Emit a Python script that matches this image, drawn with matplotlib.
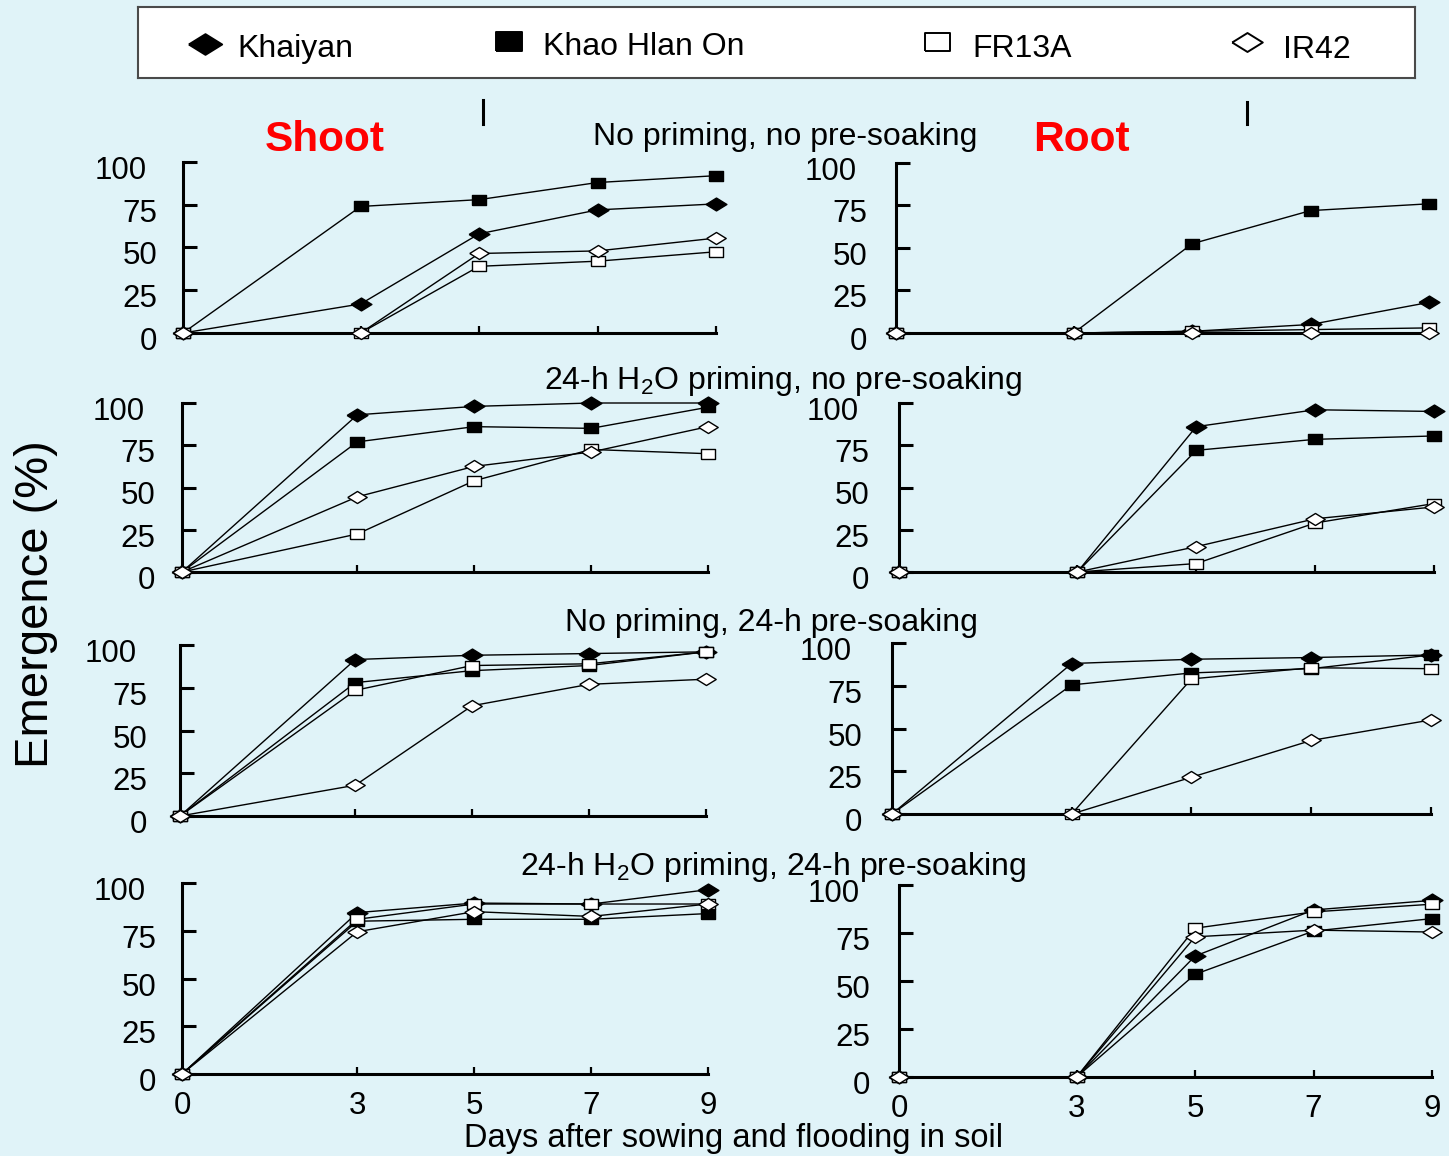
import matplotlib
matplotlib.use("Agg")
import matplotlib.pyplot as plt
from matplotlib.lines import Line2D
from matplotlib.transforms import ScaledTranslation

plt.rcParams['font.family'] = ['Liberation Sans', 'DejaVu Sans']
plt.rcParams['mathtext.fontset'] = 'custom'
plt.rcParams['mathtext.rm'] = 'Liberation Sans'
plt.rcParams['mathtext.it'] = 'Liberation Sans:italic'

# ---------------------------------------------------------------- data
days = [0, 3, 5, 7, 9]
varieties = ["Khaiyan", "Khao Hlan On", "FR13A", "IR42"]
treatments = [
    "No priming, no pre-soaking",
    "24-h H$_\\mathrm{2}$O priming, no pre-soaking",
    "No priming, 24-h pre-soaking",
    "24-h H$_\\mathrm{2}$O priming, 24-h pre-soaking",
]

# Shoot emergence (%), one row per treatment
shoot_khaiyan = [[0, 17, 58, 72, 75.5],
                 [0, 93, 98, 100, 100],
                 [0, 91.5, 94, 95, 96],
                 [0, 84.5, 89.5, 89, 96.5]]
shoot_khao = [[0, 74, 78, 88, 92],
              [0, 77, 86, 85, 97.5],
              [0, 78, 85, 88, 96],
              [0, 80, 81, 81, 84]]
shoot_fr13a = [[0, 0, 39, 42, 47.5],
               [0, 22.5, 54, 72.5, 70],
               [0, 73.5, 88, 89, 96],
               [0, 81, 89, 89, 89]]
shoot_ir42 = [[0, 0, 46.5, 48, 55.5],
              [0, 44.5, 62.5, 71, 86],
              [0, 18, 64.5, 77, 80],
              [0, 74.5, 85, 82.5, 89]]

# Root emergence (%), one row per treatment
root_khaiyan = [[0, 0, 1, 5, 18],
                [0, 0, 86, 96, 95],
                [0, 88, 90.5, 91.5, 93],
                [0, 0, 63, 87, 92]]
root_khao = [[0, 0, 52.5, 72, 76],
             [0, 0, 72, 78.5, 80.5],
             [0, 75.5, 82.5, 85, 93],
             [0, 0, 53.5, 76, 82.5]]
root_fr13a = [[0, 0, 1, 2, 3],
              [0, 0, 5, 29, 40.5],
              [0, 0, 79, 85.5, 85],
              [0, 0, 77.5, 86, 90]]
root_ir42 = [[0, 0, 0, 0, 0],
             [0, 0, 15, 31.5, 38.5],
             [0, 0, 21.5, 43, 55],
             [0, 0, 73, 76.5, 75.5]]

y_ticks = [0, 25, 50, 75, 100]

# ---------------------------------------------------------------- styles
W, H = 1449, 1156
BG = '#e0f3f8'
diamond = [(-1, 0), (0, 0.62), (1, 0), (0, -0.62), (-1, 0)]
square = [(-1, -0.72), (1, -0.72), (1, 0.72), (-1, 0.72), (-1, -0.72)]
styles = {
    "Khaiyan": dict(marker=diamond, ms=15, mfc='black', mec='black', mew=1.0),
    "Khao Hlan On": dict(marker=square, ms=10.5, mfc='black', mec='black', mew=1.0),
    "FR13A": dict(marker=square, ms=10.5, mfc='white', mec='black', mew=1.0),
    "IR42": dict(marker=diamond, ms=14, mfc='white', mec='black', mew=1.0),
}

fig = plt.figure(figsize=(W / 100, H / 100), dpi=100, facecolor=BG)


def pixel_axes(x0, x9, y100, y0):
    return fig.add_axes([x0 / W, 1 - y0 / H, (x9 - x0) / W, (y0 - y100) / H])


# panel frames in pixels: left spine, x=9 position, y=100 and y=0 positions
shoot_frames = [(183, 716, 162, 333), (182, 708, 403, 572),
                (180, 706, 645, 816), (182, 708, 883, 1074)]
root_frames = [(896, 1429, 163, 333), (899, 1434, 403, 572),
               (892, 1431, 643, 814), (899, 1432, 885, 1077)]
shoot_label_pad = [26, 27, 33, 26]
root_label_pad = [29, 30, 30, 29]

shoot_data = [shoot_khaiyan, shoot_khao, shoot_fr13a, shoot_ir42]
root_data = [root_khaiyan, root_khao, root_fr13a, root_ir42]


def draw_panel(ax, series, row, pad_px, bottom):
    ax.set_facecolor('none')
    for name, vals in zip(varieties, series):
        ax.plot(days, vals[row], color='black', lw=1.0, clip_on=False,
                zorder=3, **styles[name])
    ax.set_xlim(0, 9)
    ax.set_ylim(0, 100)
    for s in ('top', 'right'):
        ax.spines[s].set_visible(False)
    for s in ('left', 'bottom'):
        ax.spines[s].set_linewidth(2.2)
        ax.spines[s].set_color('black')
    ax.set_xticks(days)
    ax.set_yticks(y_ticks)
    ax.tick_params(axis='y', direction='in', length=10, width=2.2,
                   labelleft=False)
    ax.tick_params(axis='x', direction='in', length=5, width=1.6,
                   labelbottom=bottom, labelsize=22.5, pad=12)
    off = ScaledTranslation(-pad_px / 100, -9 / 100, fig.dpi_scale_trans)
    for v in y_ticks:
        dx = -10 if v == 100 else 0
        extra = ScaledTranslation(dx / 100, 0, fig.dpi_scale_trans)
        ax.text(0, v, str(v), transform=ax.get_yaxis_transform() + off + extra,
                ha='right', va='center', fontsize=22.5)


for r in range(4):
    a = pixel_axes(*shoot_frames[r])
    draw_panel(a, shoot_data, r, shoot_label_pad[r], r == 3)
    b = pixel_axes(*root_frames[r])
    draw_panel(b, root_data, r, root_label_pad[r], r == 3)

# treatment titles
title_pos = [(785, 137), (783, 381), (771, 623), (773, 867)]
for (x, y), t in zip(title_pos, treatments):
    fig.text(x / W, 1 - y / H, t, ha='center', va='center', fontsize=23)

fig.text(325 / W, 1 - 140 / H, "Shoot", color='#ff0000', fontsize=30.5,
         fontweight='bold', ha='center', va='center')
fig.text(1081 / W, 1 - 140 / H, "Root", color='#ff0000', fontsize=30.5,
         fontweight='bold', ha='center', va='center')

fig.text(36 / W, 1 - 604 / H, "Emergence (%)", rotation=90, fontsize=34,
         ha='center', va='center')
fig.text(733 / W, 1 - 1138 / H, "Days after sowing and flooding in soil",
         fontsize=23.5, ha='center', va='center')

# short marks above the top row
for x, y1, y2 in [(483, 100, 124), (1247, 102, 124)]:
    fig.add_artist(Line2D([x / W, x / W], [1 - y1 / H, 1 - y2 / H],
                          transform=fig.transFigure, color='black', lw=2.2))

# legend box
lg = fig.add_axes([138 / W, 1 - 78 / H, (1415 - 138) / W, (78 - 7) / H])
lg.set_xlim(138, 1415)
lg.set_ylim(78, 7)
lg.set_facecolor('white')
lg.set_xticks([])
lg.set_yticks([])
for s in lg.spines.values():
    s.set_color('#4a4a4a')
    s.set_linewidth(1.5)
legend_items = [
    ("Khaiyan", 205, 44, 237, 49, 24),
    ("Khao Hlan On", 509, 41, 543, 47, 19),
    ("FR13A", 937, 42, 972, 49, 18),
    ("IR42", 1247, 42, 1283, 50, 22),
]
for name, mx, my, tx, ty, ms in legend_items:
    st = dict(styles[name])
    st['ms'] = ms
    st['mew'] = 1.4
    lg.plot([mx], [my], ls='none', **st)
    lg.text(tx, ty, name, fontsize=23, ha='left', va='center')

fig.savefig("out.png", dpi=100, facecolor=BG)
